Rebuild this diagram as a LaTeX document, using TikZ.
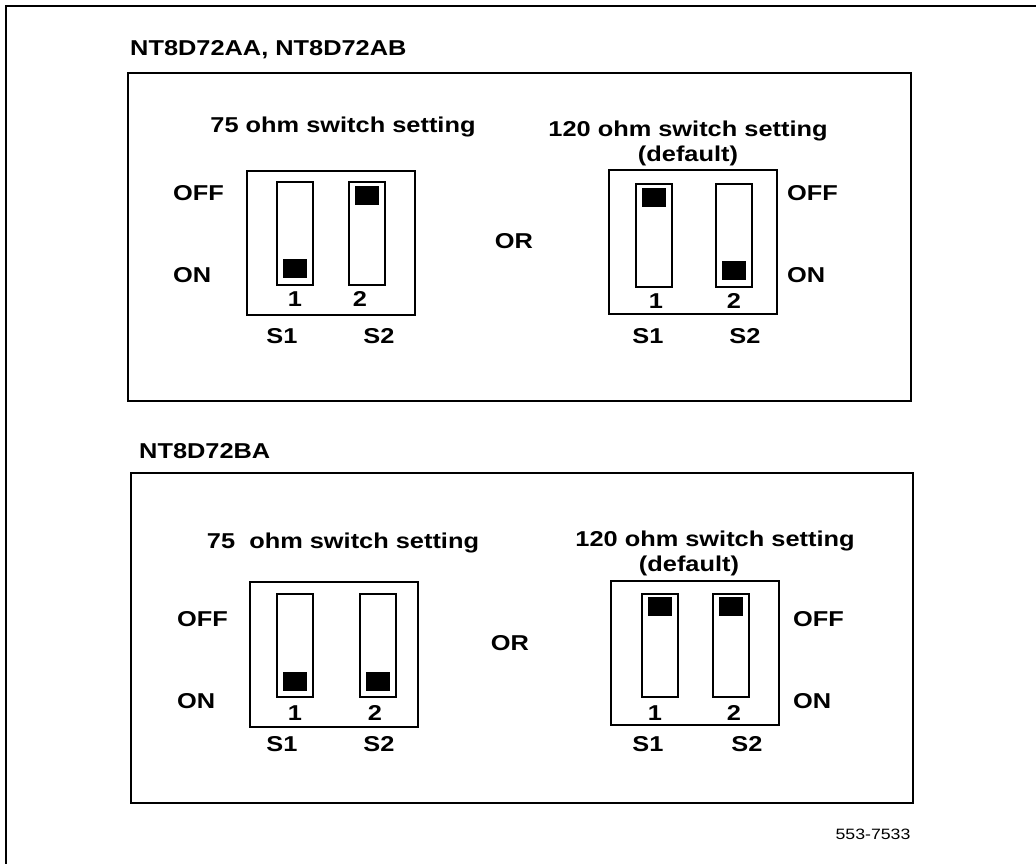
\documentclass[tikz,border=0pt]{standalone}
\usepackage{fontspec}
\newfontfamily\hvfont{Liberation Sans}[FakeStretch=1.18]
\usetikzlibrary{positioning}

\begin{document}
\begin{tikzpicture}[x=1pt, y=-1pt,
    lbl/.style={font=\hvfont\bfseries\fontsize{21.5}{25}\selectfont, inner sep=0pt, anchor=base},
    panel/.style={draw, line width=2pt, inner sep=0pt},
    swbox/.style={draw, line width=2pt, minimum width=168pt, minimum height=144pt, inner sep=0pt},
    slot/.style={draw, line width=2pt, minimum width=36pt, minimum height=103pt, inner sep=0pt},
    knob/.style={fill=black, minimum width=24pt, minimum height=19pt, inner sep=0pt, outer sep=0pt}
]
\useasboundingbox (0,0) rectangle (1036,864);
\draw[line width=2.2pt] (6,864) -- (6,6) -- (1036,6);

% NT8D72AA / AB
\node[lbl, anchor=base west] (ttlA) at (130,56) {NT8D72AA, NT8D72AB};
\node[panel, minimum width=783pt, minimum height=328pt] (pnlA) at (519.5,237) {};
\node[lbl] (ohmAl) at (343,133) {75 ohm switch setting};
\node[lbl] (ohmAr) at (688,136) {120 ohm switch setting};
\node[lbl] (dflA) at (688,161) {(default)};
\node[lbl] (orA) at (514,248) {OR};

\node[swbox] (swAl) at (331,243) {};
\node[slot] (swAl1) at (295,233.5) {};
\node[slot] (swAl2) at (366.5,233) {};
\node[knob, above=8pt of swAl1.south] (kAl1) {};
\node[knob, below=5pt of swAl2.north] (kAl2) {};
\node[lbl] (nAl1) at (295,306) {1};
\node[lbl] (nAl2) at (360,306) {2};
\node[lbl] (sAl1) at (282,343) {S1};
\node[lbl] (sAl2) at (379,343) {S2};
\node[lbl, anchor=base west] (offAl) at (173,200) {OFF};
\node[lbl, anchor=base west] (onAl) at (173,282) {ON};

\node[swbox] (swAr) at (692.5,242) {};
\node[slot] (swAr1) at (653.5,235) {};
\node[slot] (swAr2) at (734,235) {};
\node[knob, below=5pt of swAr1.north] (kAr1) {};
\node[knob, above=8pt of swAr2.south] (kAr2) {};
\node[lbl] (nAr1) at (656,308) {1};
\node[lbl] (nAr2) at (734,308) {2};
\node[lbl] (sAr1) at (648,343) {S1};
\node[lbl] (sAr2) at (745,343) {S2};
\node[lbl, anchor=base west] (offAr) at (787,200) {OFF};
\node[lbl, anchor=base west] (onAr) at (787,282) {ON};

% NT8D72BA
\node[lbl, anchor=base west] (ttlB) at (139,458) {NT8D72BA};
\node[panel, minimum width=782pt, minimum height=330pt] (pnlB) at (522,638) {};
\node[lbl] (ohmBl) at (343,548) {75\ \ ohm switch setting};
\node[lbl] (ohmBr) at (715,546) {120 ohm switch setting};
\node[lbl] (dflB) at (689,571) {(default)};
\node[lbl] (orB) at (510,650) {OR};

\node[swbox, minimum height=145pt] (swBl) at (334,654.5) {};
\node[slot] (swBl1) at (295,645.5) {};
\node[slot] (swBl2) at (377.5,645.5) {};
\node[knob, above=7pt of swBl1.south] (kBl1) {};
\node[knob, above=7pt of swBl2.south] (kBl2) {};
\node[lbl] (nBl1) at (295,720) {1};
\node[lbl] (nBl2) at (375,720) {2};
\node[lbl] (sBl1) at (282,751) {S1};
\node[lbl] (sBl2) at (379,751) {S2};
\node[lbl, anchor=base west] (offBl) at (177,626) {OFF};
\node[lbl, anchor=base west] (onBl) at (177,708) {ON};

\node[swbox] (swBr) at (695,653) {};
\node[slot] (swBr1) at (659.5,645.5) {};
\node[slot] (swBr2) at (730.5,645.5) {};
\node[knob, below=4pt of swBr1.north] (kBr1) {};
\node[knob, below=4pt of swBr2.north] (kBr2) {};
\node[lbl] (nBr1) at (655,720) {1};
\node[lbl] (nBr2) at (734,720) {2};
\node[lbl] (sBr1) at (648,751) {S1};
\node[lbl] (sBr2) at (747,751) {S2};
\node[lbl, anchor=base west] (offBr) at (793,626) {OFF};
\node[lbl, anchor=base west] (onBr) at (793,708) {ON};

\node[font=\hvfont\fontsize{15}{18}\selectfont, inner sep=0pt, anchor=base] (figno) at (873,839) {553-7533};
\end{tikzpicture}
\end{document}
